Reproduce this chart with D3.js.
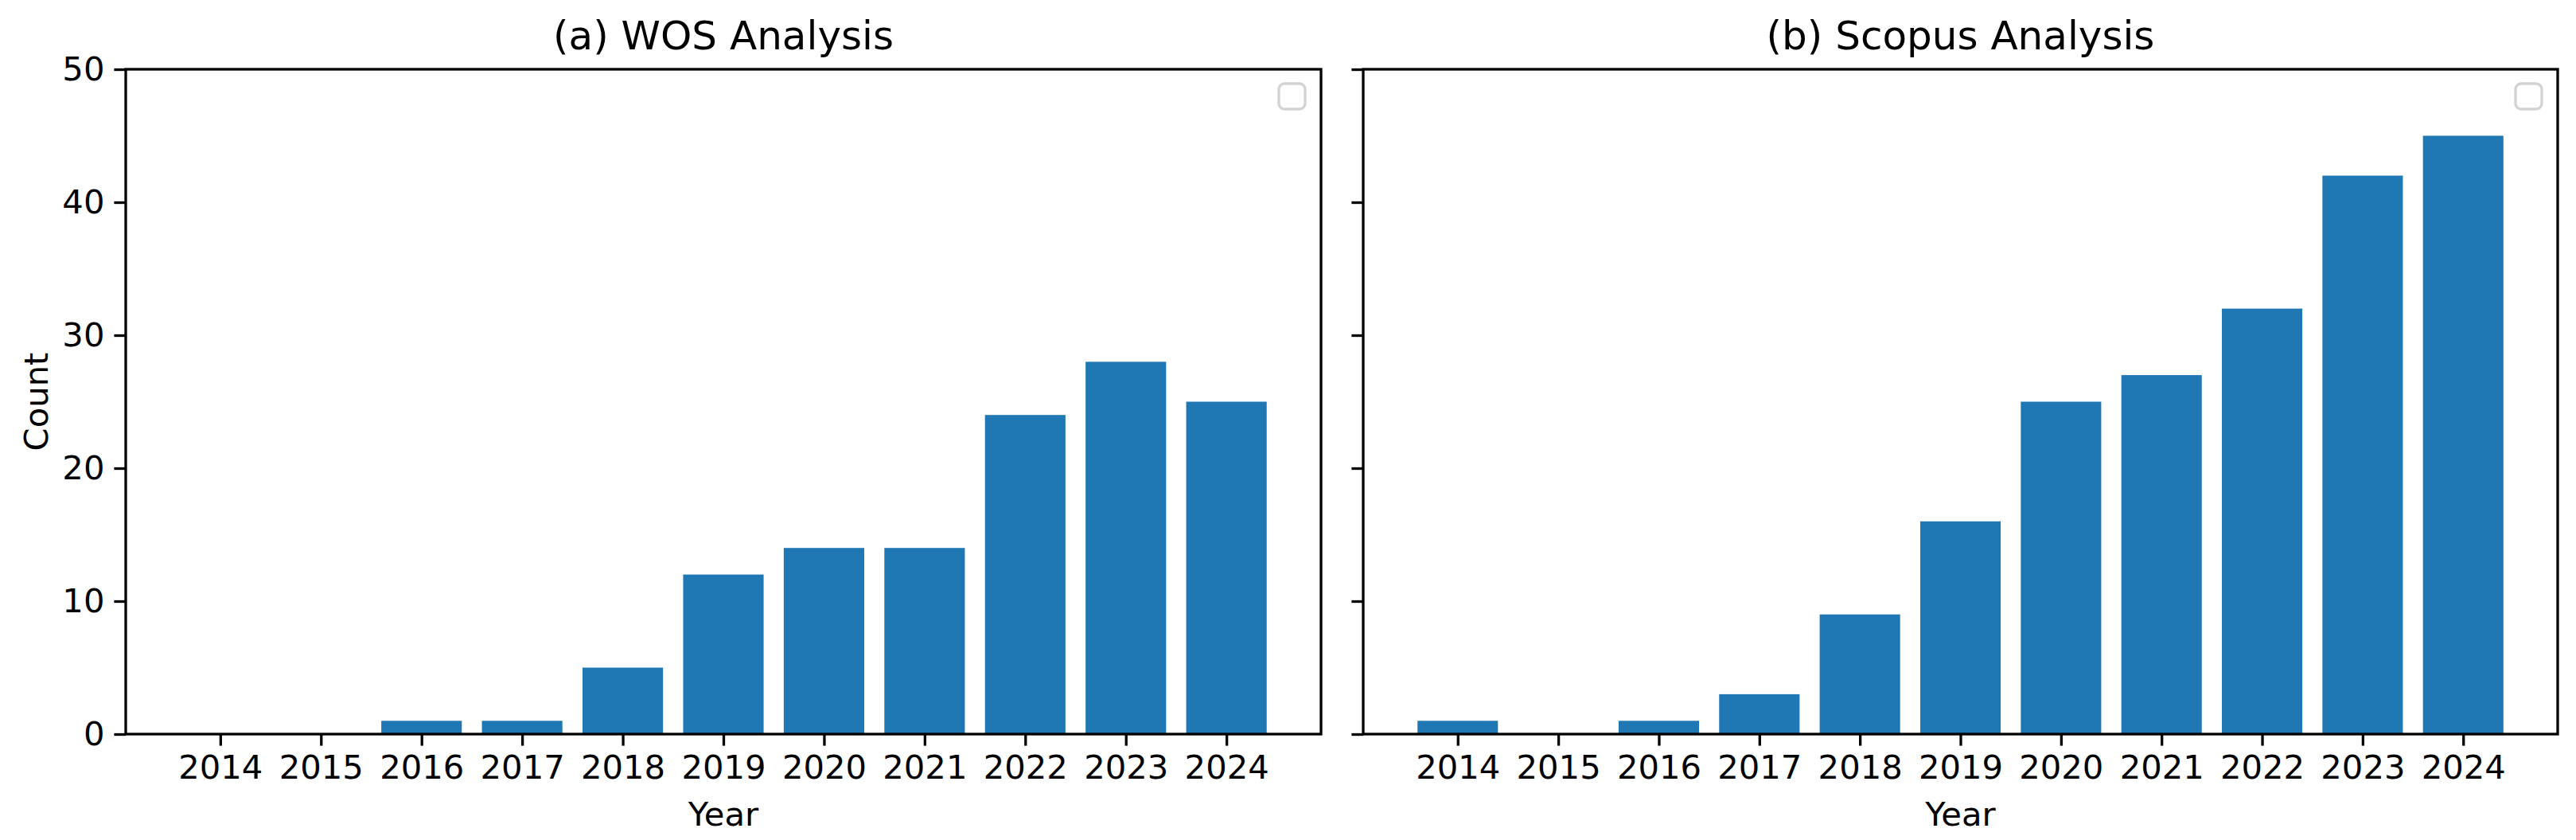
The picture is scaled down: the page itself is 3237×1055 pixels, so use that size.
<!DOCTYPE html>
<html>
<head>
<meta charset="utf-8">
<script src="https://cdn.jsdelivr.net/npm/d3@7"></script>
<style>
  body { margin: 0; background: #fff; }
  text { font-family: "DejaVu Sans", sans-serif; fill: #000; }
</style>
</head>
<body>
<svg id="chart" width="3237" height="1055"></svg>
<script>
  var years = [2014, 2015, 2016, 2017, 2018, 2019, 2020, 2021, 2022, 2023, 2024];
  var wosCounts = [0, 0, 1, 1, 5, 12, 14, 14, 24, 28, 25];
  var scopusCounts = [1, 0, 1, 3, 9, 16, 25, 27, 32, 42, 45];
  var yTicks = [0, 10, 20, 30, 40, 50];
  var titles = ["(a) WOS Analysis", "(b) Scopus Analysis"];

  var svg = d3.select("#chart");
  var plotTop = 87, plotBottom = 922;
  var panels = [
    { left: 158, right: 1660, data: wosCounts, title: titles[0], labels: true },
    { left: 1713, right: 3214, data: scopusCounts, title: titles[1], labels: false }
  ];

  var y = d3.scaleLinear().domain([0, 50]).range([plotBottom, plotTop]);

  panels.forEach(function (p) {
    var x = d3.scaleLinear().domain([2013.06, 2024.94]).range([p.left, p.right]);
    var g = svg.append("g");
    var bw = x(2014.4) - x(2013.6);

    g.selectAll("rect.bar").data(p.data).enter().append("rect")
      .attr("class", "bar")
      .attr("x", function (d, i) { return x(years[i] - 0.4); })
      .attr("width", bw)
      .attr("y", function (d) { return y(d); })
      .attr("height", function (d) { return plotBottom - y(d); })
      .attr("fill", "#1f77b4");

    var xAxis = d3.axisBottom(x).tickValues(years).tickFormat(d3.format("d"))
      .tickSize(14.6).tickPadding(12);
    var yAxis = d3.axisLeft(y).tickValues(yTicks).tickSize(14.6).tickPadding(12);
    if (!p.labels) yAxis.tickFormat("");

    var gx = g.append("g").attr("transform", "translate(0," + plotBottom + ")").call(xAxis);
    var gy = g.append("g").attr("transform", "translate(" + p.left + ",0)").call(yAxis);
    [gx, gy].forEach(function (a) {
      a.select(".domain").remove();
      a.selectAll("line").attr("stroke", "#000").attr("stroke-width", 3.3);
      a.selectAll("text").attr("font-size", 41.7).attr("font-family", "DejaVu Sans").attr("fill", "#000");
    });

    g.append("rect")
      .attr("x", p.left).attr("y", plotTop)
      .attr("width", p.right - p.left).attr("height", plotBottom - plotTop)
      .attr("fill", "none").attr("stroke", "#000").attr("stroke-width", 3.3);

    // empty legend box
    g.append("rect")
      .attr("x", p.right - 53).attr("y", 105)
      .attr("width", 33).attr("height", 32).attr("rx", 7)
      .attr("fill", "#fff").attr("stroke", "#d3d3d3").attr("stroke-width", 3.3);

    g.append("text")
      .attr("x", (p.left + p.right) / 2).attr("y", plotTop - 25)
      .attr("text-anchor", "middle").attr("font-size", 50)
      .text(p.title);

    g.append("text")
      .attr("x", (p.left + p.right) / 2).attr("y", 1037)
      .attr("text-anchor", "middle").attr("font-size", 41.7)
      .text("Year");
  });

  svg.append("text")
    .attr("transform", "translate(60," + (plotTop + plotBottom) / 2 + ") rotate(-90)")
    .attr("text-anchor", "middle").attr("font-size", 41.7)
    .text("Count");
</script>
</body>
</html>
